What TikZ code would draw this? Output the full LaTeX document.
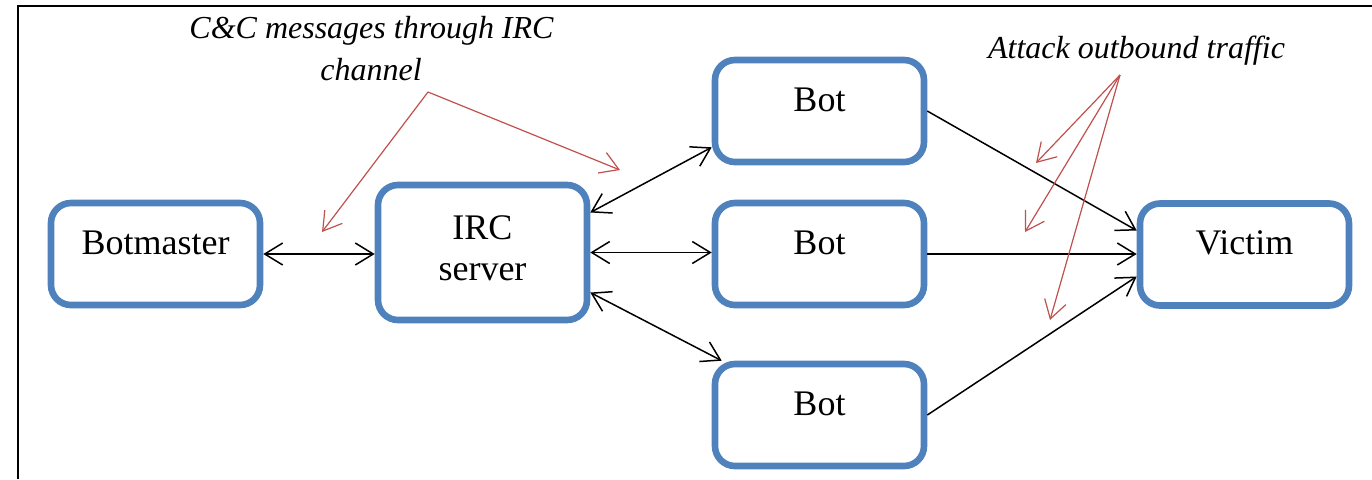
\documentclass[tikz,border=0pt]{standalone}
\usepackage{fontspec}
\setmainfont{Liberation Serif}
\usetikzlibrary{arrows.meta}
\definecolor{boxblue}{HTML}{4F81BD}
\definecolor{notered}{HTML}{C0504D}
\begin{document}
\begin{tikzpicture}[x=0.5pt,y=-0.5pt,
  >={Straight Barb[length=9pt,width=11pt]},
  box/.style={draw=boxblue,line width=3.3pt,rounded corners=10pt,minimum width=104.5pt,minimum height=51pt,inner sep=0pt},
  lbl/.style={font=\fontsize{18}{20}\selectfont,anchor=base,inner sep=0pt},
  note/.style={font=\fontsize{16}{18}\selectfont\itshape,anchor=base,inner sep=0pt},
  link/.style={draw=black,line width=0.75pt,<->},
  flow/.style={draw=black,line width=0.75pt,->},
  notearrow/.style={draw=notered,line width=0.6pt,->}]
\useasboundingbox (0,0) rectangle (1372,479);
% frame
\draw[line width=1pt] (18,479) -- (18,6) -- (1372,6);
% boxes
\node[box] (bm) at (155.5,254) {};
\node[box,minimum height=67.5pt] (irc) at (482.5,252.5) {};
\node[box] (bot1) at (819.5,111) {};
\node[box] (bot2) at (819.5,254) {};
\node[box] (bot3) at (819.5,415) {};
\node[box] (vic) at (1244.5,254.5) {};
% labels
\node[lbl] (bmT) at (bm.center) {Botmaster};
\node[lbl] (ircT1) at (482.5,239) {IRC};
\node[lbl] (ircT2) at (482.5,280) {server};
\node[lbl] (bot1T) at (bot1.center) {Bot};
\node[lbl] (bot2T) at (bot2.center) {Bot};
\node[lbl] (bot3T) at (bot3.center) {Bot};
\node[lbl] (vicT) at (vic.center) {Victim};
% connectors
\draw[link] (bm.east) -- (bm.east -| irc.west);
\draw[link] ([yshift=20pt]irc.east) -- ([yshift=9pt]bot1.south west);
\draw[link] (irc.east) -- (irc.east -| bot2.west);
\draw[link] ([yshift=-20pt]irc.east) -- ([xshift=5pt]bot3.north west);
\draw[flow] (bot1.east) -- ([yshift=12pt]vic.west);
\draw[flow] (bot2.east) -- (bot2.east -| vic.west);
\draw[flow] (bot3.east) -- ([yshift=-11pt]vic.west);
% notes
\node[note] (ccT1) at (371.5,38) {C\&C messages through IRC};
\node[note] (ccT2) at (371,80) {channel};
\node[note] (atT) at (1136.5,58) {Attack outbound traffic};
\coordinate (ccA) at (428,92);
\coordinate (ccL) at (322,232);
\coordinate (ccR) at (620,170);
\draw[notearrow] (ccA) -- (ccL);
\draw[notearrow] (ccA) -- (ccR);
\coordinate (atA) at (1120,75);
\coordinate (at1) at (1036,163);
\coordinate (at2) at (1025,232);
\coordinate (at3) at (1050,320);
\draw[notearrow] (atA) -- (at1);
\draw[notearrow] (atA) -- (at2);
\draw[notearrow] (atA) -- (at3);
\end{tikzpicture}
\end{document}
